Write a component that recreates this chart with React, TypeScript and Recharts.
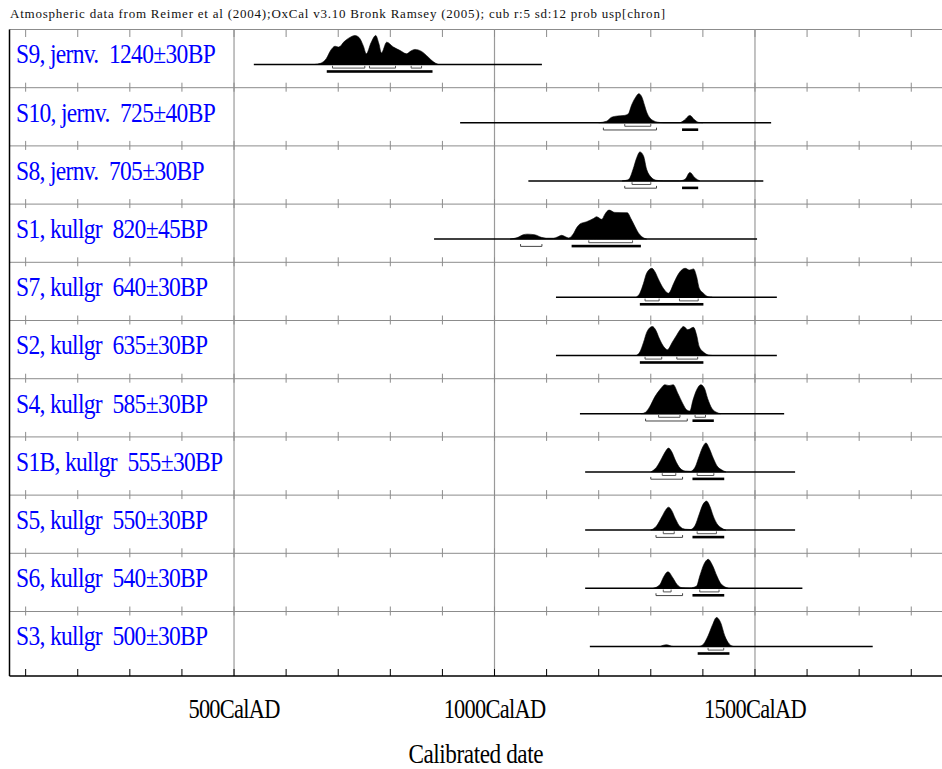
import React from 'react';
import { ComposedChart, XAxis, YAxis, Area, ReferenceLine, ReferenceDot } from 'recharts';

// ---------- text ----------
const HEADER_TEXT =
  'Atmospheric data from Reimer et al (2004);OxCal v3.10 Bronk Ramsey (2005); cub r:5 sd:12 prob usp[chron]';
const AXIS_TITLE = 'Calibrated date';
const AXIS_UNIT = 'CalAD';

// ---------- axis ----------
const X_DOMAIN: [number, number] = [69, 1859];
const Y_DOMAIN: [number, number] = [-0.108, 11];
const MAJOR_YEARS = [500, 1000, 1500];
const MINOR_YEARS = [100, 200, 300, 400, 500, 600, 700, 800, 900, 1000, 1100, 1200, 1300, 1400, 1500, 1600, 1700, 1800];

// ---------- samples (top to bottom) ----------
const SAMPLE_LABELS = [
  'S9, jernv.  1240\u00b130BP',
  'S10, jernv.  725\u00b140BP',
  'S8, jernv.  705\u00b130BP',
  'S1, kullgr  820\u00b145BP',
  'S7, kullgr  640\u00b130BP',
  'S2, kullgr  635\u00b130BP',
  'S4, kullgr  585\u00b130BP',
  'S1B, kullgr  555\u00b130BP',
  'S5, kullgr  550\u00b130BP',
  'S6, kullgr  540\u00b130BP',
  'S3, kullgr  500\u00b130BP',
];

// extent of the plotted calibration line for each sample (cal AD)
const PLOT_SPANS: [number, number][] = [
  [538, 1091],
  [934, 1531],
  [1065, 1516],
  [884, 1504],
  [1118, 1542],
  [1118, 1542],
  [1164, 1556],
  [1174, 1577],
  [1174, 1577],
  [1174, 1591],
  [1183, 1726],
];

// relative probability (year, p), max = 1
const S9_PROB: [number, number][] = [
  [655, 0], [666, 0.04], [677, 0.2], [686, 0.5], [694, 0.63], [701, 0.6], [712, 0.8], [724, 0.95], [732, 1.0],
  [740, 0.93], [748, 0.65], [754, 0.37], [763, 0.75], [772, 1.0], [778, 0.72], [783, 0.4], [793, 0.77],
  [806, 0.6], [819, 0.48], [831, 0.37], [840, 0.47], [847, 0.52], [860, 0.45], [873, 0.25], [882, 0.1], [892, 0],
];
const S10_PROB: [number, number][] = [
  [1200, 0], [1215, 0.05], [1225, 0.19], [1236, 0.23], [1249, 0.25], [1257, 0.31], [1263, 0.6], [1271, 0.88],
  [1277, 1.0], [1283, 0.88], [1288, 0.6], [1292, 0.37], [1298, 0.17], [1306, 0.06], [1312, 0.02], [1325, 0],
  [1355, 0], [1364, 0.08], [1375, 0.25], [1384, 0.1], [1392, 0.01], [1400, 0],
];
const S8_PROB: [number, number][] = [
  [1245, 0], [1255, 0.03], [1260, 0.11], [1266, 0.4], [1273, 0.8], [1279, 1.0], [1286, 0.86], [1292, 0.4],
  [1300, 0.14], [1311, 0.02], [1325, 0], [1355, 0], [1366, 0.06], [1375, 0.29], [1385, 0.1], [1394, 0],
];
const S1_PROB: [number, number][] = [
  [1030, 0], [1045, 0.06], [1055, 0.15], [1063, 0.17], [1077, 0.15], [1090, 0.06], [1100, 0.03], [1113, 0.03],
  [1122, 0.08], [1129, 0.13], [1136, 0.08], [1142, 0.04], [1148, 0.1], [1152, 0.2], [1158, 0.4], [1164, 0.52],
  [1177, 0.6], [1190, 0.71], [1196, 0.77], [1206, 0.68], [1212, 0.86], [1220, 1.0], [1231, 0.92], [1255, 0.91],
  [1262, 0.7], [1270, 0.42], [1276, 0.22], [1283, 0.08], [1292, 0],
];
const S7_PROB: [number, number][] = [
  [1272, 0], [1279, 0.14], [1286, 0.48], [1292, 0.83], [1302, 1.0], [1308, 0.88], [1314, 0.65], [1324, 0.31],
  [1334, 0.14], [1344, 0.48], [1350, 0.71], [1356, 0.88], [1366, 1.0], [1374, 0.94], [1382, 0.98], [1388, 0.71],
  [1393, 0.31], [1401, 0.14], [1410, 0.02], [1418, 0],
];
const S2_PROB: [number, number][] = [
  [1272, 0], [1279, 0.12], [1286, 0.45], [1293, 0.83], [1303, 1.0], [1310, 0.86], [1316, 0.6], [1325, 0.3],
  [1332, 0.2], [1341, 0.45], [1350, 0.71], [1356, 0.88], [1363, 1.0], [1371, 0.89], [1382, 0.97], [1388, 0.7],
  [1393, 0.3], [1401, 0.12], [1410, 0.02], [1418, 0],
];
const S4_PROB: [number, number][] = [
  [1282, 0], [1290, 0.05], [1298, 0.24], [1308, 0.59], [1318, 0.84], [1327, 1.0], [1335, 0.97], [1343, 1.0],
  [1352, 0.7], [1361, 0.36], [1369, 0.13], [1375, 0.09], [1381, 0.47], [1388, 0.82], [1396, 1.0], [1403, 0.88],
  [1409, 0.53], [1417, 0.19], [1426, 0.05], [1434, 0],
];
const S1B_PROB: [number, number][] = [
  [1300, 0], [1311, 0.16], [1321, 0.47], [1328, 0.7], [1334, 0.82], [1340, 0.7], [1347, 0.41], [1356, 0.13],
  [1366, 0.03], [1376, 0.02], [1385, 0.16], [1393, 0.55], [1400, 0.87], [1406, 1.0], [1412, 0.82], [1420, 0.47],
  [1427, 0.21], [1436, 0.07], [1444, 0],
];
const S5_PROB: [number, number][] = [
  [1300, 0], [1311, 0.14], [1321, 0.45], [1328, 0.68], [1334, 0.79], [1340, 0.68], [1347, 0.4], [1356, 0.12],
  [1366, 0.03], [1376, 0.02], [1385, 0.16], [1393, 0.55], [1400, 0.88], [1407, 1.0], [1413, 0.84], [1420, 0.48],
  [1427, 0.22], [1436, 0.07], [1444, 0],
];
const S6_PROB: [number, number][] = [
  [1305, 0], [1318, 0.14], [1324, 0.37], [1333, 0.57], [1342, 0.37], [1350, 0.14], [1360, 0.02], [1375, 0.01],
  [1388, 0.08], [1394, 0.42], [1402, 0.83], [1410, 1.0], [1419, 0.77], [1427, 0.42], [1433, 0.2], [1441, 0.06],
  [1449, 0],
];
const S3_PROB: [number, number][] = [
  [1318, 0], [1330, 0.06], [1343, 0], [1392, 0], [1401, 0.08], [1410, 0.37], [1419, 0.77], [1426, 1.0],
  [1434, 0.83], [1442, 0.37], [1451, 0.08], [1459, 0],
];

// 68.2% and 95.4% ranges (cal AD)
const RANGES_68: [number, number][][] = [
  [[689, 751], [760, 810], [840, 860]],
  [[1250, 1300]],
  [[1264, 1300]],
  [[1181, 1265]],
  [[1289, 1316], [1355, 1391]],
  [[1289, 1321], [1350, 1390]],
  [[1315, 1356], [1385, 1405]],
  [[1322, 1348], [1389, 1421]],
  [[1324, 1345], [1389, 1426]],
  [[1324, 1339], [1394, 1431]],
  [[1410, 1440]],
];
const RANGES_95: [number, number][][] = [
  [[678, 881]],
  [[1209, 1311], [1360, 1391]],
  [[1250, 1311], [1360, 1391]],
  [[1050, 1091], [1148, 1281]],
  [[1279, 1401]],
  [[1279, 1401]],
  [[1290, 1370], [1380, 1421]],
  [[1300, 1361], [1380, 1441]],
  [[1310, 1361], [1380, 1441]],
  [[1310, 1361], [1380, 1441]],
  [[1390, 1451]],
];

const PROBS = [S9_PROB, S10_PROB, S8_PROB, S1_PROB, S7_PROB, S2_PROB, S4_PROB, S1B_PROB, S5_PROB, S6_PROB, S3_PROB];

// ---------- style ----------
const FONT = "'Liberation Serif', 'Times New Roman', Times, serif";
const ROWS = SAMPLE_LABELS.length;
const BASE_IN_ROW = 0.399; // baseline height inside a row (row units)
const PEAK_HEIGHT = 0.498; // height of a p = 1 peak (row units)
const GRID_GRAY = '#8c8c8c';

const rowBase = (i: number) => ROWS - 1 - i + BASE_IN_ROW;

const bracketShape = (offset: number, color: string) => (p: any) => {
  const xa = Math.min(p.x1, p.x2);
  const xb = Math.max(p.x1, p.x2);
  const y = p.y1 + offset;
  return (
    <path
      d={`M${xa},${y - 2.3} V${y} H${xb} V${y - 2.3}`}
      fill="none"
      stroke={color}
      strokeWidth={1}
    />
  );
};

const barShape = (offset: number) => (p: any) => {
  const xa = Math.min(p.x1, p.x2);
  const xb = Math.max(p.x1, p.x2);
  return <rect x={xa} y={p.y1 + offset - 1.3} width={xb - xa} height={2.6} fill="#000" />;
};

const tickShape = (up: number, down: number, color: string) => (p: any) => (
  <line x1={p.cx} x2={p.cx} y1={p.cy - up} y2={p.cy + down} stroke={color} strokeWidth={1} />
);

const labelShape = (text: string) => (p: any) => (
  <text
    transform={`translate(${p.cx + 6.5},${p.cy - 1}) scale(0.84,1)`}
    fontFamily={FONT}
    fontSize={28}
    letterSpacing={-0.8}
    fill="#0000ff"
    style={{ whiteSpace: 'pre' }}
  >
    {text}
  </text>
);

const AxisTick = (props: any) => {
  const { x, y, payload } = props;
  return (
    <text
      transform={`translate(${x},${y + 42}) scale(0.8,1)`}
      textAnchor="middle"
      fontFamily={FONT}
      fontSize={28}
      letterSpacing={-0.9}
      fill="#000"
    >
      {`${payload.value}${AXIS_UNIT}`}
    </text>
  );
};

const AxisTitle = (props: any) => {
  const vb = props.viewBox || {};
  const cx = vb.x + vb.width / 2;
  return (
    <text
      transform={`translate(${cx},${vb.y + 87}) scale(0.86,1)`}
      textAnchor="middle"
      fontFamily={FONT}
      fontSize={27}
      letterSpacing={-0.5}
      fill="#000"
    >
      {AXIS_TITLE}
    </text>
  );
};

export default function App() {
  const separators = Array.from({ length: ROWS }, (_, k) => ROWS - k); // 11 .. 1

  return (
    <div style={{ position: 'absolute', left: 0, top: 0, width: 942, height: 769, background: '#fff' }}>
      <svg width={942} height={29} style={{ position: 'absolute', left: 0, top: 0 }}>
        <text
          x={10}
          y={18}
          fontFamily={FONT}
          fontSize={13}
          textLength={655}
          lengthAdjust="spacing"
          fill="#111"
        >
          {HEADER_TEXT}
        </text>
      </svg>
      <div style={{ position: 'absolute', left: 0, top: 0 }}>
        <ComposedChart width={942} height={769} margin={{ top: 29.5, right: 0, bottom: 0, left: 9.5 }}>
          <XAxis
            type="number"
            dataKey="year"
            domain={X_DOMAIN}
            allowDataOverflow
            ticks={MAJOR_YEARS}
            interval={0}
            height={93}
            tickLine={false}
            tickSize={0}
            tickMargin={0}
            axisLine={{ stroke: '#000', strokeWidth: 1.5 }}
            tick={<AxisTick />}
            label={(p: any) => <AxisTitle {...p} />}
          />
          <YAxis type="number" domain={Y_DOMAIN} allowDataOverflow hide />

          {/* row separators */}
          {separators.map((y) => (
            <ReferenceLine key={`sep-${y}`} y={y} stroke={GRID_GRAY} strokeWidth={1} ifOverflow="visible" />
          ))}
          {/* major verticals */}
          {MAJOR_YEARS.map((x) => (
            <ReferenceLine key={`maj-${x}`} x={x} stroke="#9a9a9a" strokeWidth={1.2} ifOverflow="visible" />
          ))}
          {/* left frame */}
          <ReferenceLine x={X_DOMAIN[0]} stroke="#000" strokeWidth={1.5} ifOverflow="visible" />

          {/* small ticks on separators, top and bottom */}
          {separators.map((y) =>
            MINOR_YEARS.map((yr) => (
              <ReferenceDot
                key={`t-${y}-${yr}`}
                x={yr}
                y={y}
                ifOverflow="visible"
                shape={y === ROWS ? tickShape(0, 7.5, GRID_GRAY) : tickShape(5, 4, GRID_GRAY)}
              />
            ))
          )}
          {MINOR_YEARS.map((yr) => (
            <ReferenceDot
              key={`tb-${yr}`}
              x={yr}
              y={Y_DOMAIN[0]}
              ifOverflow="visible"
              shape={tickShape(7, 0, '#000')}
            />
          ))}

          {/* sample labels */}
          {SAMPLE_LABELS.map((lab, i) => (
            <ReferenceDot
              key={`lab-${i}`}
              x={X_DOMAIN[0]}
              y={rowBase(i)}
              ifOverflow="visible"
              shape={labelShape(lab)}
            />
          ))}

          {/* calibration lines */}
          {PLOT_SPANS.map(([a, b], i) => (
            <ReferenceLine
              key={`span-${i}`}
              segment={[
                { x: a, y: rowBase(i) },
                { x: b, y: rowBase(i) },
              ]}
              stroke="#000"
              strokeWidth={1.5}
              ifOverflow="visible"
            />
          ))}

          {/* probability distributions */}
          {PROBS.map((prob, i) => {
            const base = rowBase(i);
            const data = prob.map(([year, p]) => ({ year, band: [base, base + p * PEAK_HEIGHT] }));
            return (
              <Area
                key={`dist-${i}`}
                data={data}
                dataKey="band"
                type="monotone"
                fill="#000"
                fillOpacity={1}
                stroke="#000"
                strokeWidth={0.6}
                dot={false}
                activeDot={false}
                isAnimationActive={false}
              />
            );
          })}

          {/* 68.2% ranges */}
          {RANGES_68.map((rs, i) =>
            rs.map(([a, b], k) => (
              <ReferenceLine
                key={`r68-${i}-${k}`}
                segment={[
                  { x: a, y: rowBase(i) },
                  { x: b, y: rowBase(i) },
                ]}
                ifOverflow="visible"
                shape={bracketShape(3.6, '#555')}
              />
            ))
          )}
          {/* 95.4% ranges: last one drawn as a heavy bar */}
          {RANGES_95.map((rs, i) =>
            rs.map(([a, b], k) => (
              <ReferenceLine
                key={`r95-${i}-${k}`}
                segment={[
                  { x: a, y: rowBase(i) },
                  { x: b, y: rowBase(i) },
                ]}
                ifOverflow="visible"
                shape={k === rs.length - 1 ? barShape(7) : bracketShape(7.3, '#444')}
              />
            ))
          )}
        </ComposedChart>
      </div>
    </div>
  );
}
